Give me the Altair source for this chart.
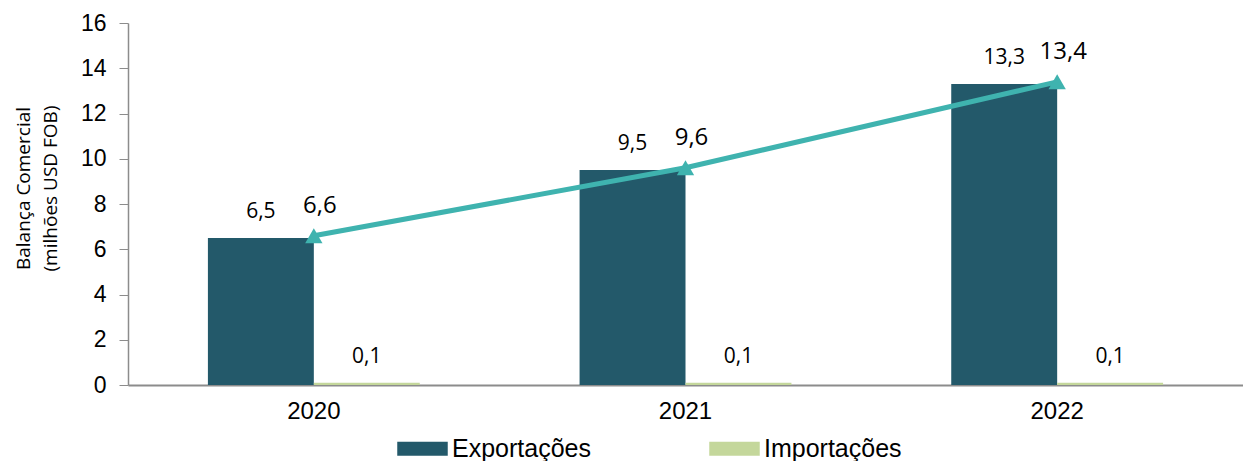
import altair as alt
import pandas as pd

years = ["2020", "2021", "2022"]
exportacoes = [6.5, 9.5, 13.3]
importacoes = [0.1, 0.1, 0.1]
saldo = [6.6, 9.6, 13.4]

series_names = ["Exportações", "Importações"]
colors = ["#23596A", "#C4D79B"]
line_color = "#3FB3AF"

SANS = "Arial, 'Liberation Sans', sans-serif"


def fmt(v):
    return f"{v:.1f}".replace(".", ",")


rows = []
for y, e, i in zip(years, exportacoes, importacoes):
    rows.append({"ano": y, "serie": "Exportações", "valor": e, "rotulo": fmt(e)})
    rows.append({"ano": y, "serie": "Importações", "valor": i, "rotulo": fmt(i)})
bars_df = pd.DataFrame(rows)
line_df = pd.DataFrame({"ano": years, "valor": saldo, "rotulo": [fmt(v) for v in saldo]})

x_enc = alt.X(
    "ano:N",
    sort=years,
    scale=alt.Scale(paddingInner=0.43, paddingOuter=0.215),
    axis=alt.Axis(
        title=None,
        labelAngle=0,
        ticks=False,
        labelFontSize=24,
        labelFont=SANS,
        labelColor="#000000",
        labelPadding=14,
        domainColor="#8C8C8C",
        domainWidth=2,
    ),
)
y_enc = alt.Y(
    "valor:Q",
    scale=alt.Scale(domain=[0, 16], nice=False),
    axis=alt.Axis(
        title=["Balança Comercial", "(milhões USD FOB)"],
        titleFontSize=19,
        titleFont="Open Sans",
        titleFontWeight="normal",
        titleColor="#000000",
        titlePadding=20,
        titleLineHeight=27,
        titleY=165,
        values=list(range(0, 17, 2)),
        grid=False,
        labelFontSize=23,
        labelFont=SANS,
        labelColor="#000000",
        labelPadding=13,
        tickSize=9,
        tickColor="#8C8C8C",
        domainColor="#8C8C8C",
        domainWidth=1.5,
    ),
)

bars = alt.Chart(bars_df).mark_bar().encode(
    x=x_enc,
    xOffset=alt.XOffset("serie:N", sort=series_names),
    y=y_enc,
    color=alt.Color(
        "serie:N",
        scale=alt.Scale(domain=series_names, range=colors),
        legend=alt.Legend(
            title=None,
            orient="none",
            legendX=269,
            legendY=400,
            direction="horizontal",
            symbolType="M-1,-0.28L1,-0.28L1,0.28L-1,0.28Z",
            symbolSize=2550,
            symbolStrokeWidth=0,
            symbolOpacity=1,
            labelFontSize=25,
            labelFont=SANS,
            labelColor="#000000",
            labelOffset=4,
            columnPadding=118,
        ),
    ),
)

bar_labels = alt.Chart(bars_df).mark_text(
    dy=-26, fontSize=21, font="Open Sans", color="#000000"
).encode(
    x=alt.X("ano:N", sort=years),
    xOffset=alt.XOffset("serie:N", sort=series_names),
    y="valor:Q",
    text="rotulo:N",
)

line = alt.Chart(line_df).mark_line(color=line_color, strokeWidth=5).encode(
    x=alt.X("ano:N", sort=years), y="valor:Q"
)
points = alt.Chart(line_df).mark_point(
    shape="triangle-up", filled=True, size=300, color=line_color, opacity=1
).encode(x=alt.X("ano:N", sort=years), y="valor:Q")
line_labels = alt.Chart(line_df).mark_text(
    dx=6, dy=-30, fontSize=24, font="Open Sans", color="#000000"
).encode(x=alt.X("ano:N", sort=years), y="valor:Q", text="rotulo:N")

chart = (
    alt.layer(bars, bar_labels, line, points, line_labels)
    .properties(
        width=1115,
        height=362,
        autosize=alt.AutoSizeParams(type="none"),
        padding={"left": 128, "top": 23, "right": 0, "bottom": 76},
        background="#FFFFFF",
    )
    .configure_view(stroke=None)
)

chart.save("out.html", embed_options={"renderer": "svg", "actions": False})
